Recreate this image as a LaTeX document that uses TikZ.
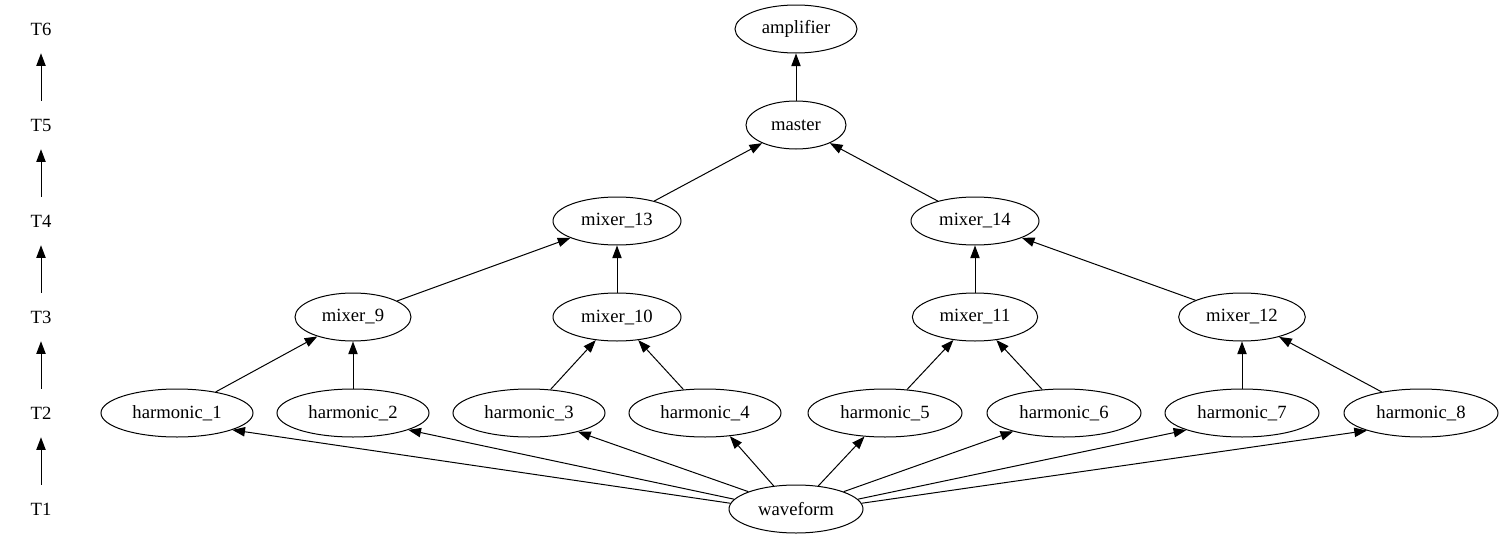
\documentclass[tikz,border=0pt]{standalone}
\usepackage{fontspec}
\setmainfont{Liberation Serif}
\usetikzlibrary{shapes.geometric,arrows.meta}
\begin{document}
\begin{tikzpicture}[x=0.75pt,y=-0.75pt,
  nd/.style={ellipse,draw,line width=0.75pt,minimum height=36pt,inner sep=0pt,minimum width=#1},
  tl/.style={minimum height=36pt,inner sep=0pt},
  ed/.style={line width=0.75pt,-{Triangle[length=9.5pt,width=7pt]}},
  every node/.style={font=\fontsize{14pt}{16pt}\selectfont}]
\useasboundingbox (0,0) rectangle (1504,539);
% time axis
\node[tl] (t6) at (41,29) {T6};
\node[tl] (t5) at (41,125) {T5};
\node[tl] (t4) at (41,221) {T4};
\node[tl] (t3) at (41,317) {T3};
\node[tl] (t2) at (41,413) {T2};
\node[tl] (t1) at (41,509) {T1};
\draw[ed] (t1) -- (t2);
\draw[ed] (t2) -- (t3);
\draw[ed] (t3) -- (t4);
\draw[ed] (t4) -- (t5);
\draw[ed] (t5) -- (t6);
% nodes
\node[nd=91.5pt] (amp) at (796,29) {amplifier};
\node[nd=75pt] (master) at (796,125) {master};
\node[nd=96pt] (m13) at (617,221) {mixer\_13};
\node[nd=96pt] (m14) at (975,221) {mixer\_14};
\node[nd=87pt] (m9) at (353,317) {mixer\_9};
\node[nd=96pt] (m10) at (617,317) {mixer\_10};
\node[nd=94pt] (m11) at (975,317) {mixer\_11};
\node[nd=95pt] (m12) at (1242,317) {mixer\_12};
\node[nd=114pt] (h1) at (177,413) {harmonic\_1};
\node[nd=114pt] (h2) at (353,413) {harmonic\_2};
\node[nd=114pt] (h3) at (529,413) {harmonic\_3};
\node[nd=114pt] (h4) at (705,413) {harmonic\_4};
\node[nd=115.5pt] (h5) at (885,413) {harmonic\_5};
\node[nd=115.5pt] (h6) at (1064,413) {harmonic\_6};
\node[nd=115.5pt] (h7) at (1242,413) {harmonic\_7};
\node[nd=115.5pt] (h8) at (1421,413) {harmonic\_8};
\node[nd=100.5pt] (wf) at (796,509) {waveform};
% edges
\draw[ed] (master) -- (amp);
\draw[ed] (m13) -- (master);
\draw[ed] (m14) -- (master);
\draw[ed] (m9) -- (m13);
\draw[ed] (m10) -- (m13);
\draw[ed] (m11) -- (m14);
\draw[ed] (m12) -- (m14);
\draw[ed] (h1) -- (m9);
\draw[ed] (h2) -- (m9);
\draw[ed] (h3) -- (m10);
\draw[ed] (h4) -- (m10);
\draw[ed] (h5) -- (m11);
\draw[ed] (h6) -- (m11);
\draw[ed] (h7) -- (m12);
\draw[ed] (h8) -- (m12);
\draw[ed] (wf.175) -- (h1.-17);
\draw[ed] (wf.171) -- (h2.-17);
\draw[ed] (wf.160) -- (h3.-21);
\draw[ed] (wf.134) -- (h4.-43);
\draw[ed] (wf.46) -- (h5.-131);
\draw[ed] (wf.20) -- (h6.-160);
\draw[ed] (wf.9) -- (h7.-163);
\draw[ed] (wf.5) -- (h8.-162);
\end{tikzpicture}
\end{document}
